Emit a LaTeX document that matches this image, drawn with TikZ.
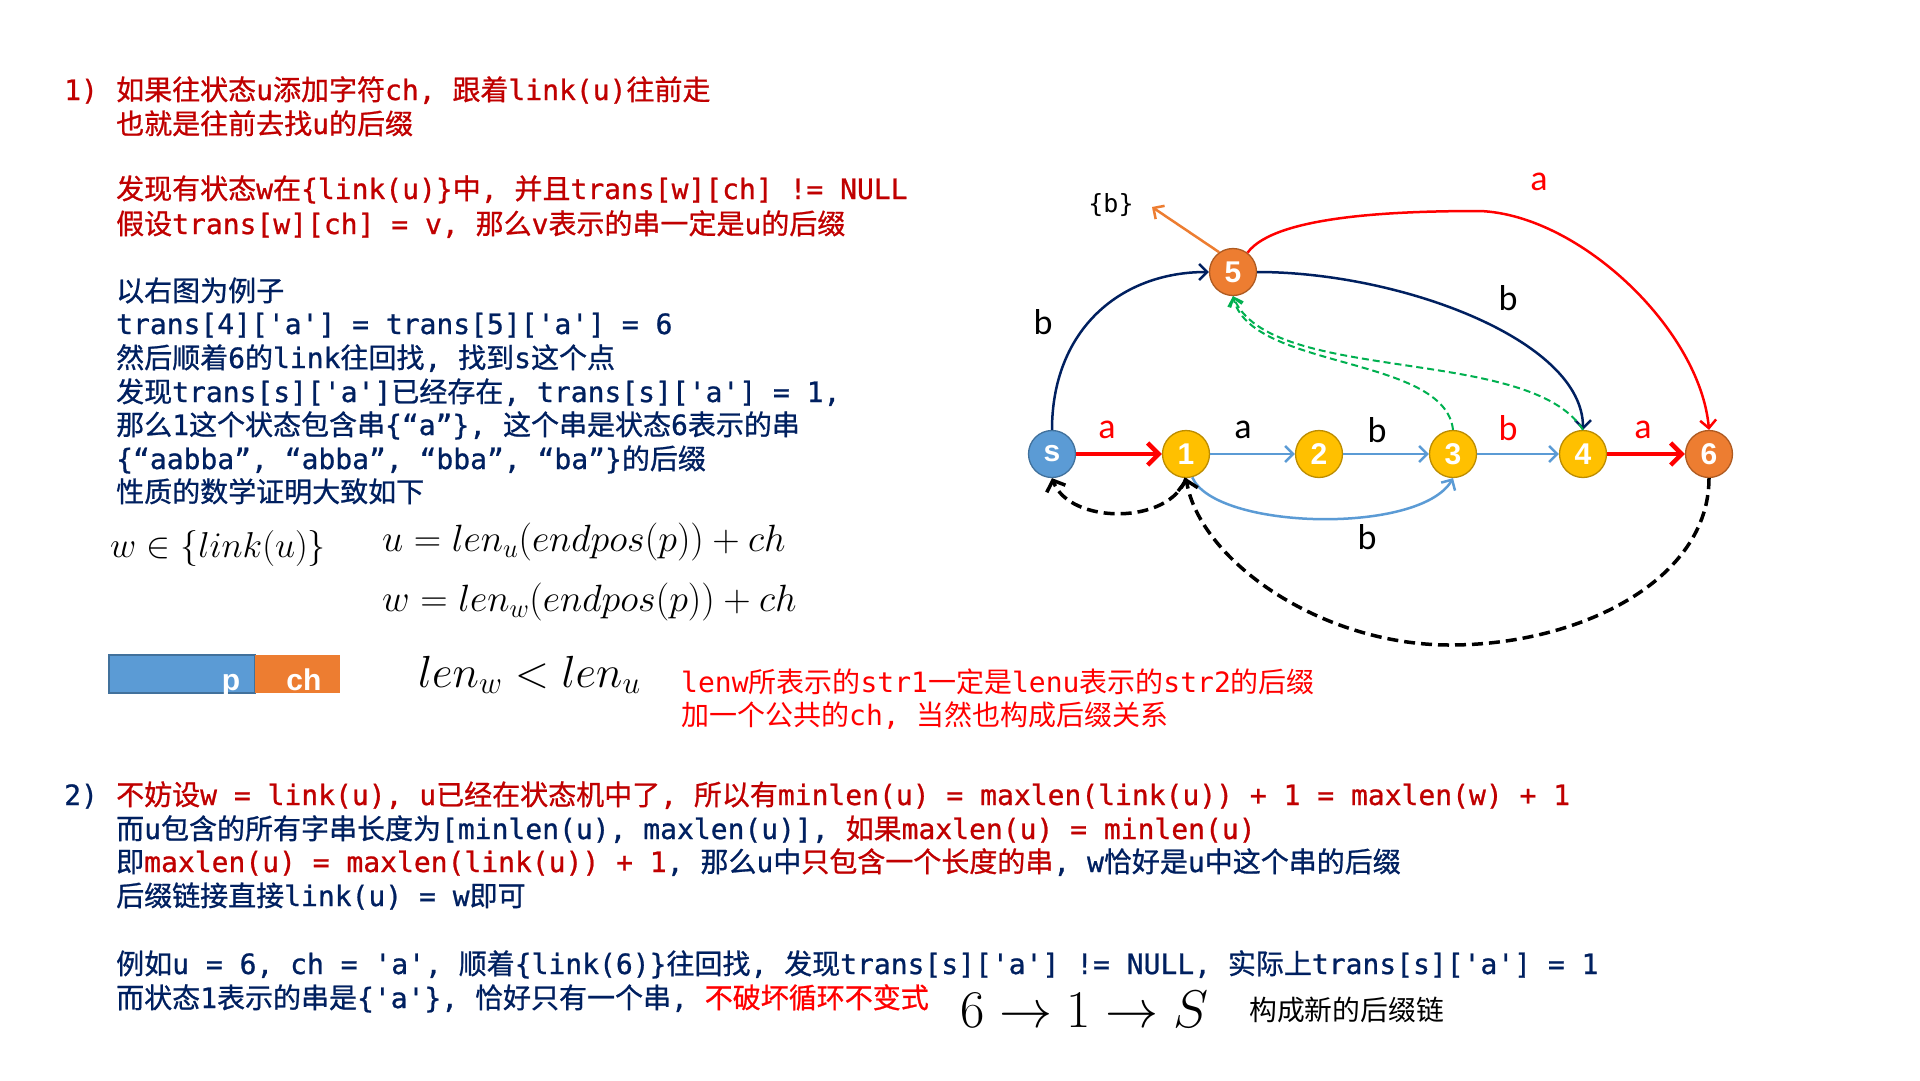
\RequirePackage{fix-cm}
\documentclass[tikz,border=0pt]{standalone}
\usepackage{fontspec}
\usetikzlibrary{arrows.meta}
\setmonofont{DejaVu Sans Mono}[FakeBold=0.8]
\newfontfamily\monoreg{DejaVu Sans Mono}
\newfontfamily\cjkfont{Noto Sans CJK SC}[FakeBold=0.8]
\newfontfamily\cjkreg{Noto Sans CJK SC}
\newfontfamily\lblfont{Carlito}
\newfontfamily\numfont{Liberation Sans}
% automatic switching between CJK font and mono font
\def\latsel{\ttfamily}
\def\cjksel{\cjkfont}
\XeTeXinterchartokenstate=1
\newXeTeXintercharclass\CJKcls
\newcount\cjkc
\def\setcjkrange#1#2{\cjkc=#1 \loop\XeTeXcharclass\cjkc=\CJKcls\relax\advance\cjkc by 1 \ifnum\cjkc<#2 \repeat}
\setcjkrange{"3000}{"3040}
\setcjkrange{"4E00}{"A000}
\setcjkrange{"FF00}{"FFF0}
\XeTeXinterchartoks 0 \CJKcls = {\cjksel}
\XeTeXinterchartoks 4095 \CJKcls = {\cjksel}
\XeTeXinterchartoks \CJKcls 0 = {\latsel}
\XeTeXinterchartoks \CJKcls 4095 = {\latsel}
\definecolor{navy}{HTML}{002060}
\definecolor{rd}{HTML}{C00000}
\definecolor{brd}{HTML}{FF0000}
\definecolor{sblue}{HTML}{5B9BD5}
\definecolor{sblueD}{HTML}{41719C}
\definecolor{yel}{HTML}{FFC000}
\definecolor{yelD}{HTML}{BC8C00}
\definecolor{org}{HTML}{ED7D31}
\definecolor{orgD}{HTML}{AE5A21}
\definecolor{grn}{HTML}{00B050}
\tikzset{
  txt/.style={anchor=base west, inner sep=0pt, font=\def\latsel{\ttfamily}\def\cjksel{\cjkfont}\fontsize{28}{33}\selectfont\latsel},
  txtr/.style={anchor=base west, inner sep=0pt, font=\def\latsel{\monoreg}\def\cjksel{\cjkreg}\fontsize{28}{33}\selectfont\latsel},
  mth/.style={inner sep=0pt, font=\fontsize{#1}{#1}\selectfont},
  lbl/.style={inner sep=0pt, font=\fontsize{36}{36}\selectfont\lblfont},
  state/.style={circle, line width=1.3pt, minimum size=47pt, inner sep=0pt,
    font=\fontsize{30}{30}\selectfont\numfont\bfseries, text=white},
  bthin/.style={draw=sblue, line width=2.5pt, -{Straight Barb[length=8pt,width=16pt]}},
  rthick/.style={draw=brd, line width=4.5pt, -{Straight Barb[length=11pt,width=22pt]}},
  navyarr/.style={draw=navy, line width=2.5pt, -{Straight Barb[length=8pt,width=16pt]}},
  redarr/.style={draw=brd, line width=2.5pt, -{Straight Barb[length=8pt,width=16pt]}},
  orgarr/.style={draw=org, line width=2.5pt, -{Straight Barb[length=8pt,width=16pt]}},
  grnarr/.style={draw=grn, line width=2pt, dash pattern=on 7pt off 4pt, -{Straight Barb[length=8pt,width=14pt]}},
  blkarr/.style={draw=black, line width=3.5pt, dash pattern=on 11pt off 6pt, -{Straight Barb[length=9pt,width=20pt]}},
}
\begin{document}
\begin{tikzpicture}[x=1pt,y=-1pt]
\fill[white] (0,0) rectangle (1920,1080);
\useasboundingbox (0,0) rectangle (1920,1080);
% ---------- section 1 ----------
\node[txt,text=rd] (t1n) at (64,100) {1)};
\node[txt,text=rd] (t1a) at (116,100) {如果往状态u添加字符ch, 跟着link(u)往前走};
\node[txt,text=rd] (t1b) at (116,134) {也就是往前去找u的后缀};
\node[txt,text=rd] (t1c) at (116,199) {发现有状态w在\{link(u)\}中, 并且trans[w][ch] != NULL};
\node[txt,text=rd] (t1d) at (116,234) {假设trans[w][ch] = v, 那么v表示的串一定是u的后缀};
\node[txt,text=navy] (t1e) at (116,301) {以右图为例子};
\node[txt,text=navy] (t1f) at (116,334) {trans[4]['a'] = trans[5]['a'] = 6};
\node[txt,text=navy] (t1g) at (116,368) {然后顺着6的link往回找, 找到s这个点};
\node[txt,text=navy] (t1h) at (116,402) {发现trans[s]['a']已经存在, trans[s]['a'] = 1,};
\node[txt,text=navy] (t1i) at (116,435) {那么1这个状态包含串\{“a”\}, 这个串是状态6表示的串};
\node[txt,text=navy] (t1j) at (116,469) {\{“aabba”, “abba”, “bba”, “ba”\}的后缀};
\node[txt,text=navy] (t1k) at (116,502) {性质的数学证明大致如下};
% ---------- formulas ----------
\node[mth=36, anchor=west] (m1) at (110,548) {$w\in\{link(u)\}$};
\node[mth=38, anchor=west] (m2) at (382,542) {$u=len_u(endpos(p))+ch$};
\node[mth=38, anchor=west] (m3) at (382,602) {$w=len_w(endpos(p))+ch$};
\node[mth=45, anchor=base west] (m4) at (418,687) {$len_w<len_u$};
\node[mth=53, anchor=base west] (m5) at (960,1027) {$6\rightarrow1\rightarrow S$};
\node[inner sep=0pt, anchor=west, font=\def\latsel{\monoreg}\def\cjksel{\cjkreg}\fontsize{27.8}{33}\selectfont\cjkreg] (m6) at (1249,1010) {构成新的后缀链};
% ---------- bar ----------
\filldraw[fill=sblue, draw=sblueD, line width=1.5pt] (109,655) rectangle (255,693);
\fill[org] (255,655) rectangle (340,693);
\node[anchor=base, inner sep=0pt, text=white, font=\fontsize{30}{30}\selectfont\numfont\bfseries] (pp) at (231,690) {p};
\node[anchor=base, inner sep=0pt, text=white, font=\fontsize{30}{30}\selectfont\numfont\bfseries] (pc) at (304,690) {ch};
\node[txtr,text=brd] (r1) at (681,692) {lenw所表示的str1一定是lenu表示的str2的后缀};
\node[txtr,text=brd] (r2) at (681,725) {加一个公共的ch, 当然也构成后缀关系};
% ---------- section 2 ----------
\node[txt,text=navy] (t2n) at (64,805) {2)};
\node[txt,text=rd] (t2a) at (116,805) {不妨设w = link(u), u已经在状态机中了, 所以有minlen(u) = maxlen(link(u)) + 1 = maxlen(w) + 1};
\node[txt,text=navy] (t2b) at (116,839) {而u包含的所有字串长度为[minlen(u), maxlen(u)], {\color{rd}如果maxlen(u) = minlen(u)}};
\node[txt,text=navy] (t2c) at (116,872) {即{\color{rd}maxlen(u) = maxlen(link(u)) + 1}, 那么u中{\color{rd}只包含一个长度的串}, w恰好是u中这个串的后缀};
\node[txt,text=navy] (t2d) at (116,906) {后缀链接直接link(u) = w即可};
\node[txt,text=navy] (t2e) at (116,974) {例如u = 6, ch = 'a', 顺着\{link(6)\}往回找, 发现trans[s]['a'] != NULL, 实际上trans[s]['a'] = 1};
\node[txt,text=navy] (t2f) at (116,1008) {而状态1表示的串是\{'a'\}, 恰好只有一个串, {\color{brd}不破坏循环不变式}};
% ---------- graph ----------
\node[state, fill=sblue, draw=sblueD] (s) at (1052,454) {s};
\node[state, fill=yel, draw=yelD] (n1) at (1186,454) {1};
\node[state, fill=yel, draw=yelD] (n2) at (1319,454) {2};
\node[state, fill=yel, draw=yelD] (n3) at (1453,454) {3};
\node[state, fill=yel, draw=yelD] (n4) at (1583,454) {4};
\node[state, fill=org, draw=orgD] (n6) at (1709,454) {6};
\node[state, fill=org, draw=orgD] (n5) at (1233,272) {5};
\node[inner sep=0pt, font=\fontsize{25}{25}\selectfont\monoreg] (lb) at (1111,205) {\{b\}};
\coordinate (bt) at (1152,207);
% edges
\draw[rthick] (s) -- (n1);
\draw[bthin] (n1) -- (n2);
\draw[bthin] (n2) -- (n3);
\draw[bthin] (n3) -- (n4);
\draw[rthick] (n4) -- (n6);
\draw[bthin] (n1.-75) .. controls (1215,530) and (1420,535) .. (n3.-90);
\draw[navyarr] (s.north) .. controls (1052,330) and (1120,272) .. (n5.west);
\draw[navyarr] (n5.east) .. controls (1400,272) and (1583,340) .. (n4.north);
\draw[redarr] (n5.53) .. controls (1275,215) and (1400,211) .. (1480,211) .. controls (1580,215) and (1700,330) .. (n6.north);
\draw[orgarr] (n5.125) -- (bt);
\draw[grnarr] (n3.north) .. controls (1445,355) and (1250,370) .. (n5.south);
\draw[grnarr] (n4.north) .. controls (1530,345) and (1270,385) .. (n5.south);
\draw[blkarr] (n1.south) .. controls (1170,525) and (1070,525) .. (s.south);
\draw[blkarr] (n6.south) .. controls (1709,580) and (1580,645) .. (1450,645) .. controls (1320,645) and (1200,560) .. (n1.south);
% edge labels
\node[lbl, text=brd] (la1) at (1107,430) {a};
\node[lbl] (la2) at (1243,430) {a};
\node[lbl] (la3) at (1377,430) {b};
\node[lbl, text=brd] (la4) at (1508,428) {b};
\node[lbl, text=brd] (la5) at (1643,430) {a};
\node[lbl] (la6) at (1043,322) {b};
\node[lbl] (la7) at (1508,298) {b};
\node[lbl, text=brd] (la8) at (1539,182) {a};
\node[lbl] (la9) at (1367,537) {b};
\end{tikzpicture}
\end{document}
